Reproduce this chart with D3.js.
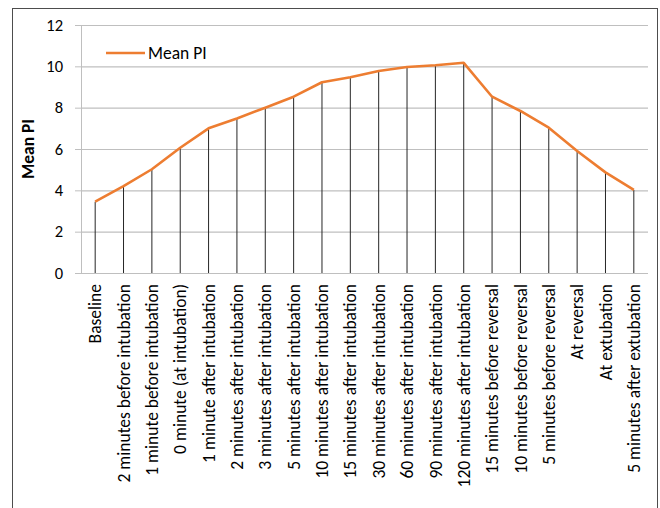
<!DOCTYPE html>
<html>
<head>
<meta charset="utf-8">
<script src="https://cdn.jsdelivr.net/npm/d3@7"></script>
<style>
  html, body { margin: 0; padding: 0; background: #fff; }
  svg { display: block; font-family: Carlito, Lato, "Open Sans", sans-serif; }
</style>
</head>
<body>
<svg id="chart" width="660" height="508"></svg>
<script>
// Time points of the measurement
const categories = [
  "Baseline",
  "2 minutes before intubation",
  "1 minute before intubation",
  "0 minute (at intubation)",
  "1 minute after intubation",
  "2 minutes after intubation",
  "3 minutes after intubation",
  "5 minutes after intubation",
  "10 minutes after intubation",
  "15 minutes after intubation",
  "30 minutes after intubation",
  "60 minutes after intubation",
  "90 minutes after intubation",
  "120 minutes after intubation",
  "15 minutes before reversal",
  "10 minutes before reversal",
  "5 minutes before reversal",
  "At reversal",
  "At extubation",
  "5 minutes after extubation"
];

// Mean perfusion index at each time point
const meanPI = [3.45, 4.2, 5.02, 6.06, 7.0, 7.48, 8.0, 8.53, 9.23, 9.47,
                9.77, 9.97, 10.05, 10.17, 8.53, 7.84, 7.03, 5.9, 4.87, 4.02];

const yTicks = [0, 2, 4, 6, 8, 10, 12];
const seriesName = "Mean PI";
const yTitle = "Mean PI";

const FONT = "Carlito, Lato, 'Open Sans', sans-serif";
const svg = d3.select("#chart");
const margin = { left: 81, top: 25 };
const plotRight = 648, plotBottom = 273;

// outer chart frame
svg.append("rect")
  .attr("x", 12.5).attr("y", 8.5)
  .attr("width", 645).attr("height", 520)
  .attr("fill", "none").attr("stroke", "#4d4d4d").attr("stroke-width", 1);

const x = d3.scaleBand().domain(categories).range([margin.left, plotRight]);
const y = d3.scaleLinear().domain([0, 12]).range([plotBottom, margin.top]);

// gridlines with outward ticks on the left
const yAxis = svg.append("g")
  .attr("transform", `translate(${margin.left},0)`)
  .call(d3.axisLeft(y).tickValues(yTicks).tickSize(6).tickPadding(12));
yAxis.select(".domain").attr("stroke", "#bfbfbf");
yAxis.selectAll(".tick line").attr("stroke", "#bfbfbf");
yAxis.selectAll(".tick text")
  .attr("font-size", 16.5).attr("fill", "#000")
  .style("font-family", FONT);
yAxis.selectAll(".tick").append("line")
  .attr("x1", 0).attr("x2", plotRight - margin.left)
  .attr("stroke", "#bfbfbf").attr("stroke-width", 1.2);

// category labels, rotated
const xAxis = svg.append("g")
  .attr("transform", `translate(0,${plotBottom})`)
  .call(d3.axisBottom(x).tickSize(0).tickPadding(0));
xAxis.select(".domain").remove();
xAxis.selectAll(".tick text")
  .attr("transform", "rotate(-90)")
  .attr("x", -11).attr("y", 0).attr("dy", "0.35em")
  .attr("text-anchor", "end")
  .attr("font-size", 17.5).attr("fill", "#000")
  .style("font-family", FONT);

// drop lines from the series to the axis
svg.append("g").selectAll("line")
  .data(meanPI)
  .join("line")
  .attr("x1", (d, i) => x(categories[i]) + x.bandwidth() / 2)
  .attr("x2", (d, i) => x(categories[i]) + x.bandwidth() / 2)
  .attr("y1", d => y(d))
  .attr("y2", y(0))
  .attr("stroke", "#262626").attr("stroke-width", 1);

// series line
const line = d3.line()
  .x((d, i) => x(categories[i]) + x.bandwidth() / 2)
  .y(d => y(d));
svg.append("path")
  .datum(meanPI)
  .attr("d", line)
  .attr("fill", "none")
  .attr("stroke", "#ED7D31")
  .attr("stroke-width", 2.6)
  .attr("stroke-linejoin", "round");

// y axis title
svg.append("text")
  .attr("transform", `translate(34,${(plotBottom + margin.top) / 2}) rotate(-90)`)
  .attr("text-anchor", "middle")
  .attr("font-size", 17.5).attr("font-weight", "bold")
  .text(yTitle);

// legend
const lg = svg.append("g");
lg.append("line")
  .attr("x1", 106).attr("x2", 145).attr("y1", 53).attr("y2", 53)
  .attr("stroke", "#ED7D31").attr("stroke-width", 2.6);
lg.append("text")
  .attr("x", 148).attr("y", 53).attr("dy", "0.35em")
  .attr("font-size", 17.5)
  .text(seriesName);
</script>
</body>
</html>
